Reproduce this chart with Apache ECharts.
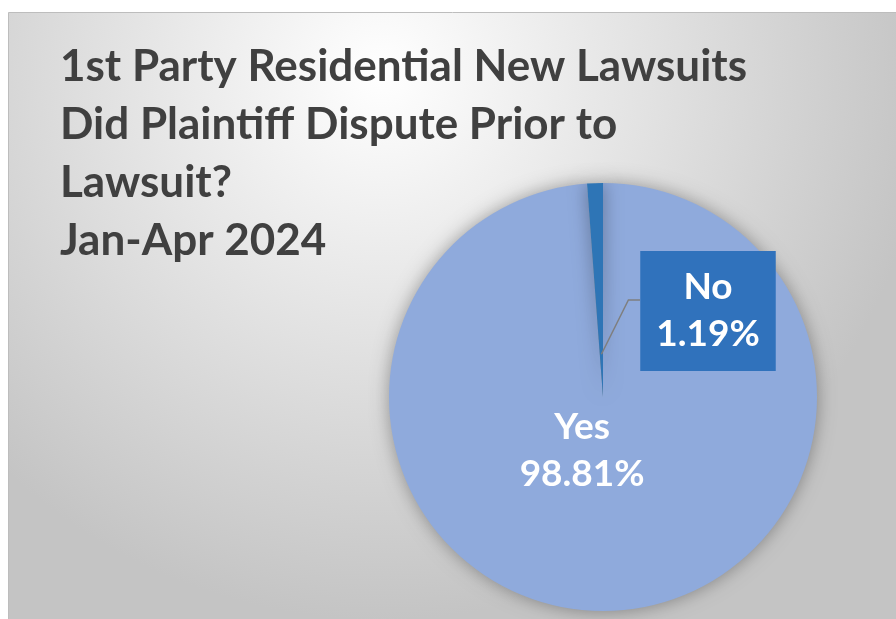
<!DOCTYPE html>
<html><head><meta charset="utf-8">
<script src="https://cdn.jsdelivr.net/npm/echarts@6/dist/echarts.min.js"></script>
<style>html,body{margin:0;padding:0;background:#fff;}#c{width:896px;height:619px;}</style>
</head><body><div id="c"></div>
<script>
const titleLines = ['1st Party Residential New Lawsuits', 'Did Plaintiff Dispute Prior to', 'Lawsuit?', 'Jan-Apr 2024'];
const categories = ['Yes', 'No'];
const values = [98.81, 1.19];
const colors = ['#8FAADC', '#2E75B6'];

const chart = echarts.init(document.getElementById('c'));
const bgGraphic = {
  id: 'bg', type: 'rect', left: 8, top: 12, z: -10,
  shape: {width: 888, height: 607},
  style: {
    fill: {type: 'radial', x: 0.42, y: 0.1, r: 0.9,
      colorStops: [{offset: 0, color: '#ffffff'}, {offset: 1, color: '#c4c4c4'}]},
    stroke: '#bdbdbd', lineWidth: 1
  }
};
const NO_LABEL = {x: 708, y: 311};
chart.setOption({
  backgroundColor: '#fff',
  animation: false,
  graphic: [bgGraphic],
  title: {
    text: titleLines.join('\n'),
    left: 55, top: 33,
    textStyle: {fontFamily: 'Lato', fontWeight: 'bold', fontSize: 44, color: '#404040', lineHeight: 58}
  },
  series: [{
    type: 'pie',
    center: [603, 397],
    radius: 214,
    startAngle: 90,
    clockwise: true,
    itemStyle: {shadowBlur: 18, shadowColor: 'rgba(0,0,0,0.35)'},
    data: categories.map((c, i) => ({
      name: c, value: values[i], itemStyle: {color: colors[i]},
      label: i === 0 ? {
        position: 'inside', offset: [-25, -56]
      } : {
        position: 'outside', backgroundColor: '#3072BC', padding: [13, 16, 13, 16]
      },
      labelLine: {show: false}
    })),
    label: {
      formatter: p => p.name + '\n' + p.value.toFixed(2) + '%',
      color: '#fff', fontFamily: 'Lato', fontWeight: 'bold', fontSize: 37, lineHeight: 47, align: 'center'
    },
    labelLayout: function (p) {
      if (p.dataIndex === 1) {
        return {x: NO_LABEL.x, y: NO_LABEL.y, align: 'center', verticalAlign: 'middle'};
      }
      return {};
    }
  }]
});

// leader line for the "No" label, derived from the pie's own slice layout
const lay = chart.getModel().getSeriesByIndex(0).getData().getItemLayout(1);
const mid = (lay.startAngle + lay.endAngle) / 2;
const p0 = [lay.cx + Math.cos(mid) * lay.r * 0.2, lay.cy + Math.sin(mid) * lay.r * 0.2];
const boxLeft = NO_LABEL.x - 68;
chart.setOption({
  graphic: [bgGraphic, {
    id: 'leader', type: 'polyline', z: 10,
    shape: {points: [p0, [p0[0] + 27, NO_LABEL.y - 11], [boxLeft, NO_LABEL.y - 11]]},
    style: {stroke: '#7f7f7f', lineWidth: 1.5, fill: null}
  }]
});
</script></body></html>
